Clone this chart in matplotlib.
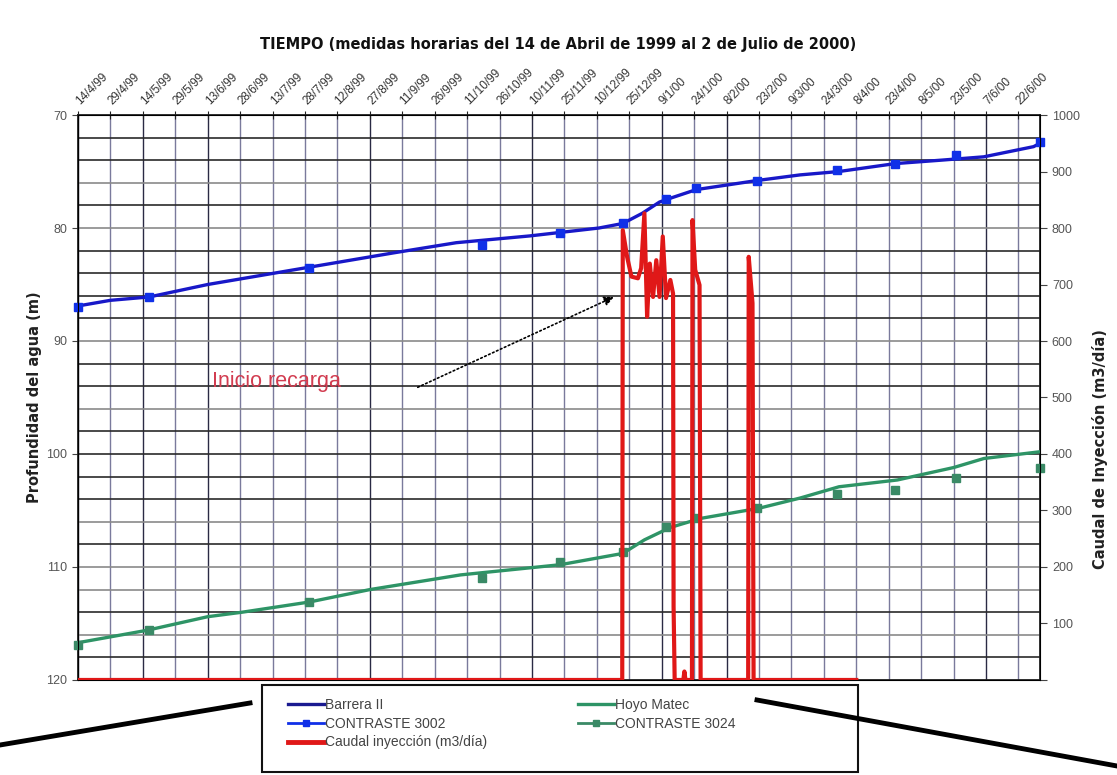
import matplotlib
matplotlib.use("Agg")
import matplotlib.pyplot as plt
from matplotlib.lines import Line2D
from matplotlib.patches import Rectangle
import pandas as pd

plt.rcParams["font.family"] = ["Liberation Sans", "DejaVu Sans"]

# Barrera II (m)
barrera_dates = ["1999-04-14", "1999-04-29", "1999-05-17", "1999-06-13", "1999-07-29",
                 "1999-09-07", "1999-10-06", "1999-11-09", "1999-12-11", "1999-12-22",
                 "1999-12-31", "2000-01-08", "2000-01-14", "2000-01-25", "2000-02-22",
                 "2000-03-13", "2000-03-31", "2000-04-26", "2000-05-17", "2000-06-06",
                 "2000-06-29", "2000-07-02"]
barrera_depth = [86.9, 86.4, 86.1, 85.0, 83.5, 82.2, 81.3, 80.7, 80.0, 79.6,
                 78.7, 77.7, 77.3, 76.6, 75.8, 75.3, 75.0, 74.3, 74.0, 73.7,
                 72.8, 72.5]

# CONTRASTE 3002, manual checks
c3002_dates = ["1999-04-14", "1999-05-17", "1999-07-30", "1999-10-18", "1999-11-23",
               "1999-12-22", "2000-01-11", "2000-01-25", "2000-02-22", "2000-03-30",
               "2000-04-26", "2000-05-24", "2000-07-02"]
c3002_depth = [87.0, 86.1, 83.5, 81.5, 80.4, 79.6, 77.4, 76.5, 75.8, 74.9,
               74.3, 73.5, 72.4]

# Hoyo Matec (m)
matec_dates = ["1999-04-14", "1999-05-16", "1999-06-13", "1999-06-29", "1999-07-30",
               "1999-08-27", "1999-10-08", "1999-11-23", "1999-12-22", "2000-01-01",
               "2000-01-13", "2000-01-27", "2000-02-23", "2000-03-13", "2000-03-31",
               "2000-04-27", "2000-05-23", "2000-06-06", "2000-07-02"]
matec_depth = [116.7, 115.6, 114.4, 114.0, 113.1, 112.0, 110.7, 109.8, 108.8, 107.6,
               106.5, 105.7, 104.8, 103.9, 102.9, 102.3, 101.2, 100.4, 99.8]

# CONTRASTE 3024, manual checks
c3024_dates = c3002_dates
c3024_depth = [116.9, 115.6, 113.1, 111.0, 109.6, 108.7, 106.5, 105.7, 104.8, 103.5,
               103.2, 102.1, 101.2]

# Caudal inyeccion (m3/dia)
caudal_dates = ["1999-04-14 00:00", "1999-12-21 18:00", "1999-12-22 00:00", "1999-12-24 00:00",
                "1999-12-26 00:00", "1999-12-29 00:00", "1999-12-30 12:00", "2000-01-01 00:00",
                "2000-01-02 06:00", "2000-01-03 12:00", "2000-01-05 00:00", "2000-01-06 12:00",
                "2000-01-08 00:00", "2000-01-09 12:00", "2000-01-11 00:00", "2000-01-13 00:00",
                "2000-01-14 06:00", "2000-01-14 12:00", "2000-01-15 00:00", "2000-01-19 00:00",
                "2000-01-19 12:00", "2000-01-20 00:00", "2000-01-23 00:00", "2000-01-23 06:00",
                "2000-01-24 12:00", "2000-01-26 12:00", "2000-01-27 00:00", "2000-02-18 00:00",
                "2000-02-18 06:00", "2000-02-20 00:00", "2000-02-20 12:00", "2000-04-08 00:00"]
caudal_vals = [0, 0, 796, 749, 714, 711, 729, 826, 643, 737, 678, 743, 678, 785, 676, 708,
               684, 130, 0, 0, 15, 0, 0, 814, 726, 699, 0, 0, 749, 667, 0, 0]

tick_labels = ["14/4/99", "29/4/99", "14/5/99", "29/5/99", "13/6/99", "28/6/99", "13/7/99",
               "28/7/99", "12/8/99", "27/8/99", "11/9/99", "26/9/99", "11/10/99", "26/10/99",
               "10/11/99", "25/11/99", "10/12/99", "25/12/99", "9/1/00", "24/1/00", "8/2/00",
               "23/2/00", "9/3/00", "24/3/00", "8/4/00", "23/4/00", "8/5/00", "23/5/00",
               "7/6/00", "22/6/00"]

to_dt = pd.to_datetime
ticks = pd.date_range("1999-04-14", periods=len(tick_labels), freq="15D")

fig = plt.figure(figsize=(11.17, 7.75), dpi=100)
ax = fig.add_axes([0.0698, 0.1226, 0.8613, 0.729])
ax.set_xlim(to_dt("1999-04-14"), to_dt("2000-07-02"))
ax.set_ylim(120, 70)

# grid (scan makes some lines look darker than others)
dark_v = {0, 2, 4, 9, 14, 18, 20, 28}
for i, t in enumerate(ticks):
    ax.axvline(t, color="#2a2a44" if i in dark_v else "#7a7a9c", lw=1.0, zorder=1)
light_h = {76, 80, 90, 96, 106, 110, 112, 116}
for lev in range(72, 120, 2):
    ax.axhline(lev, color="#8a8a8a" if lev in light_h else "#2a2a2a", lw=1.2, zorder=1)

ax.plot(to_dt(barrera_dates), barrera_depth, color="#1818c8", lw=2.4, zorder=3)
ax.plot(to_dt(c3002_dates), c3002_depth, ls="none", marker="s", ms=5.5,
        color="#1030e8", zorder=4, clip_on=False)
ax.plot(to_dt(matec_dates), matec_depth, color="#2e9466", lw=2.4, zorder=3)
ax.plot(to_dt(c3024_dates), c3024_depth, ls="none", marker="s", ms=5.5,
        color="#3a8a66", zorder=4, clip_on=False)

ax.xaxis.tick_top()
ax.set_xticks(ticks)
ax.set_xticklabels(tick_labels, rotation=45, ha="left", va="center",
                   rotation_mode="anchor", fontsize=8.5, color="#333333")
ax.tick_params(axis="x", direction="inout", length=6, pad=6, color="#222222")
ax.set_yticks(range(70, 121, 10))
ax.tick_params(axis="y", direction="out", length=4, labelsize=9,
               labelcolor="#555555", color="#444444")
for s in ax.spines.values():
    s.set_color("#222222")
    s.set_linewidth(1.3)

ax2 = ax.twinx()
ax2.set_ylim(0, 1000)
ax2.plot(to_dt(caudal_dates), caudal_vals, color="#e01818", lw=3.0, zorder=5)
ax2.set_yticks(range(0, 1001, 100))
ax2.set_yticklabels([""] + [str(v) for v in range(100, 1001, 100)])
ax2.tick_params(axis="y", direction="out", length=5, labelsize=9,
                labelcolor="#555555", color="#444444")

ax.annotate("", xy=(to_dt("1999-12-19"), 86.0), xytext=(to_dt("1999-09-17"), 94.2),
            arrowprops=dict(arrowstyle="-|>", ls=(0, (1, 1.6)), color="black",
                            lw=1.2, mutation_scale=14), zorder=6)
ax.text(to_dt("1999-06-15"), 93.6, "Inicio recarga", color="#d23c50",
        fontsize=15.5, ha="left", va="center", zorder=6)

fig.text(0.5, 0.942, "TIEMPO (medidas horarias del 14 de Abril de 1999 al 2 de Julio de 2000)",
         ha="center", va="center", fontsize=10.5, fontweight="bold", color="#111111",
         family="DejaVu Sans")
fig.text(35 / 1117, 1 - 397 / 775, "Profundidad del agua (m)", rotation=90,
         ha="center", va="center", fontsize=10.5, fontweight="bold", color="#222222",
         family="DejaVu Sans")
fig.text(1100 / 1117, 0.42, "Caudal de Inyección (m3/día)", rotation=90,
         ha="center", va="center", fontsize=10.5, fontweight="bold", color="#222222",
         family="DejaVu Sans")

# legend box and entries
fig.add_artist(Rectangle((262 / 1117, 1 - 772 / 775), 596 / 1117, 87 / 775,
                         transform=fig.transFigure, fill=False, ec="#111111", lw=1.5))
handles = [
    Line2D([], [], color="#1a1a90", lw=2.4),
    Line2D([], [], color="#1030e8", lw=2.0, marker="s", ms=5),
    Line2D([], [], color="#e01818", lw=3.5),
    Line2D([], [], color="#2e9466", lw=2.4),
    Line2D([], [], color="#3a8a66", lw=2.0, marker="s", ms=5),
]
labels = ["Barrera II", "CONTRASTE 3002", "Caudal inyección (m3/día)",
          "Hoyo Matec", "CONTRASTE 3024"]
leg = fig.legend(handles, labels, ncol=2, frameon=False, loc="upper left",
                 bbox_to_anchor=(278 / 1117, 1 - 688 / 775), fontsize=10,
                 handlelength=2.6, handletextpad=0.1, labelspacing=0.35,
                 columnspacing=6.5, borderpad=0.2)
for t in leg.get_texts():
    t.set_color("#444444")

# thick callout strokes from the scan
fig.add_artist(Line2D([0, 250 / 1117], [1 - 745 / 775, 1 - 703 / 775],
                      transform=fig.transFigure, color="black", lw=3.5))
fig.add_artist(Line2D([757 / 1117, 1117 / 1117], [1 - 700 / 775, 1 - 766 / 775],
                      transform=fig.transFigure, color="black", lw=3.5))

fig.savefig("out.png", dpi=100, facecolor="white")
